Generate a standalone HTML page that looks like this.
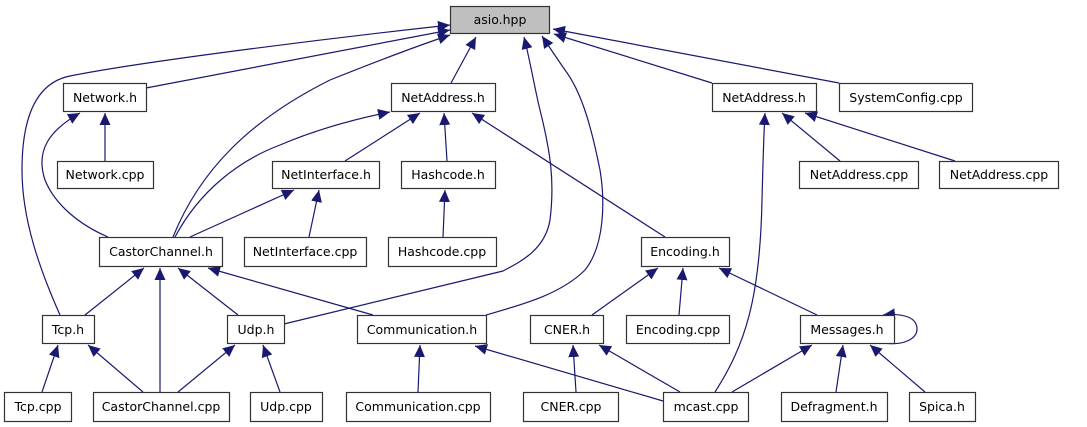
<!DOCTYPE html>
<html><head><meta charset="utf-8"><style>
html,body{margin:0;padding:0;background:#fff;}
svg{display:block;}
text{font-family:"DejaVu Sans","Liberation Sans",sans-serif;font-size:12.5px;fill:#000;}
</style></head><body>
<svg width="1087" height="427" viewBox="0 0 1087 427" xmlns="http://www.w3.org/2000/svg">
<defs>
<marker id="a" markerUnits="userSpaceOnUse" markerWidth="14" markerHeight="12" refX="12" refY="6" orient="auto">
<path d="M0,0.5 L12,6 L0,11.5 Z" fill="#191970"/>
</marker>
</defs>
<g fill="none" stroke="#191970" stroke-width="1.2" marker-end="url(#a)">
<path d="M60,315 C40,270 22,220 22,170 C22,110 40,82 70,76 C150,60 350,36 450,25"/>
<path d="M146,88 L450,30"/>
<path d="M173,237 C200,170 250,120 330,80 C380,60 420,45 450,35"/>
<path d="M451,83 L476,37"/>
<path d="M284,324 L503,271 C520,262 545,250 550,220 C555,180 550,150 540,110 C535,90 530,60 524,37"/>
<path d="M486,315 C520,305 560,295 585,270 C605,245 605,200 600,170 C590,120 580,90 565,70 C558,60 550,48 542,36"/>
<path d="M712,83 L554,34"/>
<path d="M839,83 L553,29"/>
<path d="M105,161 L105,113"/>
<path d="M108,237 C80,225 55,205 45,180 C35,150 50,130 80,113"/>
<path d="M175,237 C200,190 240,160 280,145 C320,128 360,118 390,112"/>
<path d="M345,161 L420,113"/>
<path d="M447,161 L444,113"/>
<path d="M665,237 L472,113"/>
<path d="M190,237 L294,190"/>
<path d="M309,237 L319,190"/>
<path d="M443,237 L445,190"/>
<path d="M840,161 L782,113"/>
<path d="M955,161 L805,113"/>
<path d="M715,392 C745,345 760,300 762,200 C763,160 764,130 765,113"/>
<path d="M85,315 L144,268"/>
<path d="M160,392 L160,268"/>
<path d="M238,315 L178,268"/>
<path d="M373,315 L208,268"/>
<path d="M592,315 L658,268"/>
<path d="M679,315 L683,268"/>
<path d="M817,315 L719,268"/>
<path d="M884,343 C905,346 917,338 917,329 C917,318 905,313 883,315"/>
<path d="M42,392 L58,345"/>
<path d="M143,392 L88,345"/>
<path d="M178,392 L235,345"/>
<path d="M280,392 L263,345"/>
<path d="M418,392 L420,345"/>
<path d="M663,401 L475,346"/>
<path d="M576,392 L573,345"/>
<path d="M680,392 L599,345"/>
<path d="M732,392 L812,345"/>
<path d="M836,392 L843,345"/>
<path d="M925,392 L870,345"/>
</g>
<g stroke="#333" stroke-width="1.2" fill="#fff">
<rect x="450.5" y="6.5" width="99" height="27" fill="#bfbfbf"/>
<rect x="63.5" y="83.5" width="83" height="28"/>
<rect x="57.5" y="161.5" width="96" height="27"/>
<rect x="391.5" y="83.5" width="104" height="28"/>
<rect x="272.5" y="161.5" width="107" height="27"/>
<rect x="401.5" y="161.5" width="94" height="27"/>
<rect x="712.5" y="83.5" width="104" height="28"/>
<rect x="839.5" y="83.5" width="133" height="28"/>
<rect x="799.5" y="161.5" width="119" height="27"/>
<rect x="939.5" y="161.5" width="119" height="27"/>
<rect x="99.5" y="237.5" width="123" height="29"/>
<rect x="244.5" y="237.5" width="122" height="29"/>
<rect x="388.5" y="237.5" width="108" height="29"/>
<rect x="641.5" y="237.5" width="88" height="29"/>
<rect x="42.5" y="315.5" width="52" height="28"/>
<rect x="227.5" y="315.5" width="57" height="28"/>
<rect x="357.5" y="315.5" width="129" height="28"/>
<rect x="530.5" y="315.5" width="73" height="28"/>
<rect x="626.5" y="315.5" width="103" height="28"/>
<rect x="800.5" y="315.5" width="94" height="28"/>
<rect x="4.5" y="392.5" width="67" height="29"/>
<rect x="93.5" y="392.5" width="136" height="29"/>
<rect x="250.5" y="392.5" width="72" height="29"/>
<rect x="346.5" y="392.5" width="144" height="29"/>
<rect x="523.5" y="392.5" width="95" height="29"/>
<rect x="663.5" y="392.5" width="85" height="29"/>
<rect x="781.5" y="392.5" width="106" height="29"/>
<rect x="909.5" y="392.5" width="66" height="29"/>
</g>
<g text-anchor="middle">
<text x="500" y="24">asio.hpp</text>
<text x="105" y="102">Network.h</text>
<text x="105" y="179">Network.cpp</text>
<text x="443" y="102">NetAddress.h</text>
<text x="326" y="179">NetInterface.h</text>
<text x="448" y="179">Hashcode.h</text>
<text x="764" y="102">NetAddress.h</text>
<text x="906" y="102">SystemConfig.cpp</text>
<text x="859" y="179">NetAddress.cpp</text>
<text x="999" y="179">NetAddress.cpp</text>
<text x="161" y="256">CastorChannel.h</text>
<text x="305" y="256">NetInterface.cpp</text>
<text x="442" y="256">Hashcode.cpp</text>
<text x="685" y="256">Encoding.h</text>
<text x="68" y="334">Tcp.h</text>
<text x="256" y="334">Udp.h</text>
<text x="422" y="334">Communication.h</text>
<text x="567" y="334">CNER.h</text>
<text x="678" y="334">Encoding.cpp</text>
<text x="847" y="334">Messages.h</text>
<text x="38" y="411">Tcp.cpp</text>
<text x="161" y="411">CastorChannel.cpp</text>
<text x="286" y="411">Udp.cpp</text>
<text x="418" y="411">Communication.cpp</text>
<text x="571" y="411">CNER.cpp</text>
<text x="706" y="411">mcast.cpp</text>
<text x="834" y="411">Defragment.h</text>
<text x="942" y="411">Spica.h</text>
</g>
</svg>
</body></html>
